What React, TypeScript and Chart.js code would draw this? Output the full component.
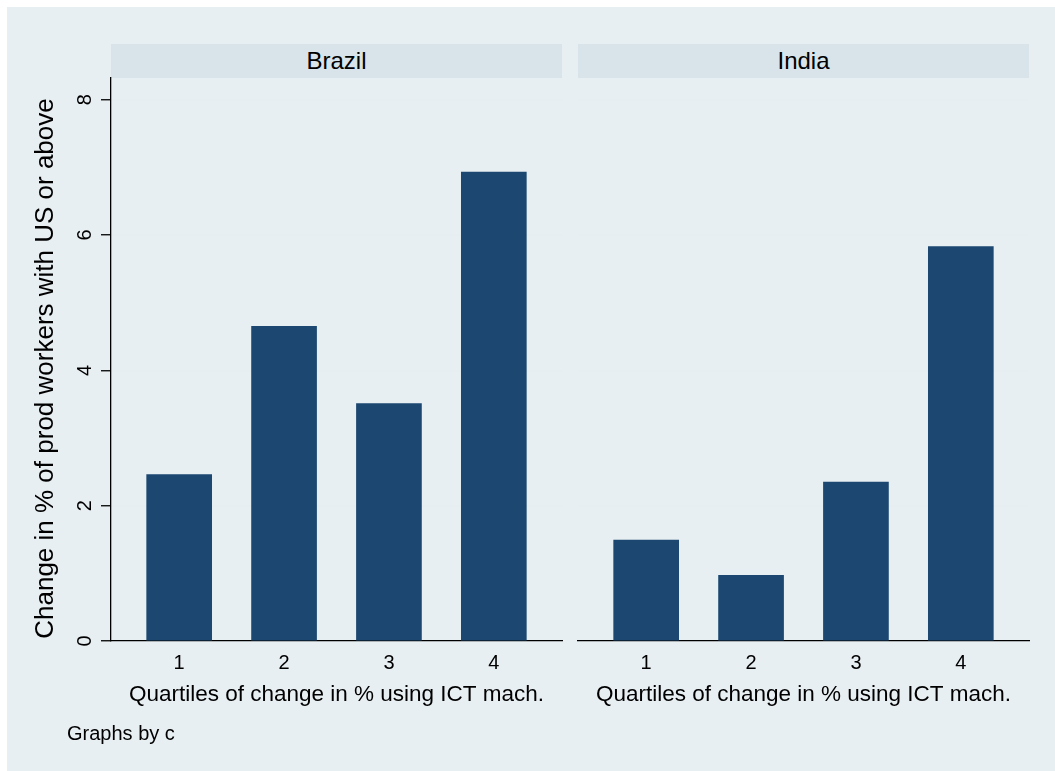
import React, { useEffect, useRef } from 'react';
import { Chart, registerables } from 'chart.js';

Chart.register(...registerables);

const panelNames = ['Brazil', 'India'];
const quartiles = [1, 2, 3, 4];
const brazilValues = [2.46, 4.65, 3.51, 6.93];
const indiaValues = [1.49, 0.97, 2.35, 5.83];
const yTickValues = [0, 2, 4, 6, 8];
const yTitle = 'Change in % of prod workers with US or above';
const xTitle = 'Quartiles of change in % using ICT mach.';
const noteText = 'Graphs by c';

const FONT = '"Liberation Sans", Arial, Helvetica, sans-serif';
const BG = '#e8eff2';
const STRIP = '#d8e4ea';
const BAR = '#1b4770';
const GRID = '#e6eef2';

const yAxisText = {
  id: 'yAxisText',
  afterDraw(chart: any, _args: any, opts: any) {
    if (!opts || !opts.show) return;
    const y = chart.scales.y;
    const ctx = chart.ctx;
    ctx.save();
    ctx.fillStyle = '#000';
    ctx.textAlign = 'center';
    ctx.textBaseline = 'middle';
    ctx.font = `20px ${FONT}`;
    yTickValues.forEach((v) => {
      const py = y.getPixelForValue(v);
      ctx.save();
      ctx.translate(y.right - 26, py);
      ctx.rotate(-Math.PI / 2);
      ctx.fillText(String(v), 0, 0);
      ctx.restore();
    });
    ctx.font = `26px ${FONT}`;
    ctx.save();
    ctx.translate(46, (y.top + y.bottom) / 2 + 9);
    ctx.rotate(-Math.PI / 2);
    ctx.fillText(yTitle, 0, 0);
    ctx.restore();
    ctx.restore();
  },
};

type PanelProps = {
  name: string;
  values: number[];
  first: boolean;
  left: number;
  width: number;
};

function Panel({ name, values, first, left, width }: PanelProps) {
  const ref = useRef<HTMLCanvasElement | null>(null);
  useEffect(() => {
    if (!ref.current) return;
    const yWidth = first ? 111 : 8;
    const chart = new Chart(ref.current, {
      type: 'bar',
      data: {
        datasets: [
          {
            label: name,
            data: quartiles.map((q, i) => ({ x: q, y: values[i] })),
            backgroundColor: BAR,
            borderWidth: 0,
            barThickness: 65,
          },
        ],
      },
      plugins: [yAxisText],
      options: {
        animation: false,
        responsive: false,
        maintainAspectRatio: false,
        layout: { padding: { top: 78, bottom: 63, left: 0, right: first ? 8 : 26 } },
        plugins: {
          legend: { display: false },
          tooltip: { enabled: false },
          yAxisText: { show: first },
        } as any,
        scales: {
          x: {
            type: 'linear',
            offset: false,
            min: 0.35,
            max: 4.65,
            afterFit: (s: any) => {
              s.height = 67;
            },
            ticks: {
              stepSize: 1,
              includeBounds: false,
              color: '#000',
              padding: 10,
              font: { family: FONT, size: 20 },
              callback: (v: any) => (quartiles.includes(v) ? String(v) : ''),
            },
            grid: { display: false, drawTicks: false, offset: false },
            border: { display: true, color: '#000', width: 1.3 },
            title: {
              display: true,
              text: xTitle,
              color: '#000',
              font: { family: FONT, size: 22.5 },
              padding: { top: 0, bottom: 0 },
            },
          },
          y: {
            type: 'linear',
            min: 0,
            max: 8.32,
            afterFit: (s: any) => {
              s.width = yWidth;
            },
            ticks: {
              stepSize: 2,
              includeBounds: false,
              display: false,
            },
            grid: {
              color: GRID,
              lineWidth: 1.5,
              drawTicks: first,
              tickLength: 10,
              tickColor: '#000',
              tickWidth: 1.3,
            },
            border: { display: first, color: '#000', width: 1.3 },
            title: { display: false },
          },
        },
      } as any,
    });
    return () => chart.destroy();
  }, [name, values, first]);

  const stripLeft = first ? 111 : 8;
  const stripRight = first ? 8 : 26;
  return (
    <div style={{ position: 'absolute', left, top: 0, width, height: 771 }}>
      <div
        style={{
          position: 'absolute',
          left: stripLeft,
          top: 44,
          width: width - stripLeft - stripRight,
          height: 34,
          background: STRIP,
          display: 'flex',
          alignItems: 'center',
          justifyContent: 'center',
          fontFamily: FONT,
          fontSize: 24,
          color: '#000',
        }}
      >
        {name}
      </div>
      <canvas
        ref={ref}
        width={width}
        height={771}
        style={{ position: 'absolute', left: 0, top: 0, width, height: 771 }}
      />
    </div>
  );
}

export default function App() {
  return (
    <div
      style={{
        position: 'fixed',
        left: 0,
        top: 0,
        width: 1055,
        height: 771,
        background: '#fff',
        overflow: 'hidden',
      }}
    >
      <div style={{ position: 'absolute', left: 7, top: 7, right: 0, bottom: 0, background: BG }} />
      <Panel name={panelNames[0]} values={brazilValues} first={true} left={0} width={570} />
      <Panel name={panelNames[1]} values={indiaValues} first={false} left={570} width={485} />
      <div
        style={{
          position: 'absolute',
          left: 67,
          top: 733,
          transform: 'translateY(-50%)',
          fontFamily: FONT,
          fontSize: 20,
          color: '#000',
          whiteSpace: 'nowrap',
        }}
      >
        {noteText}
      </div>
    </div>
  );
}
